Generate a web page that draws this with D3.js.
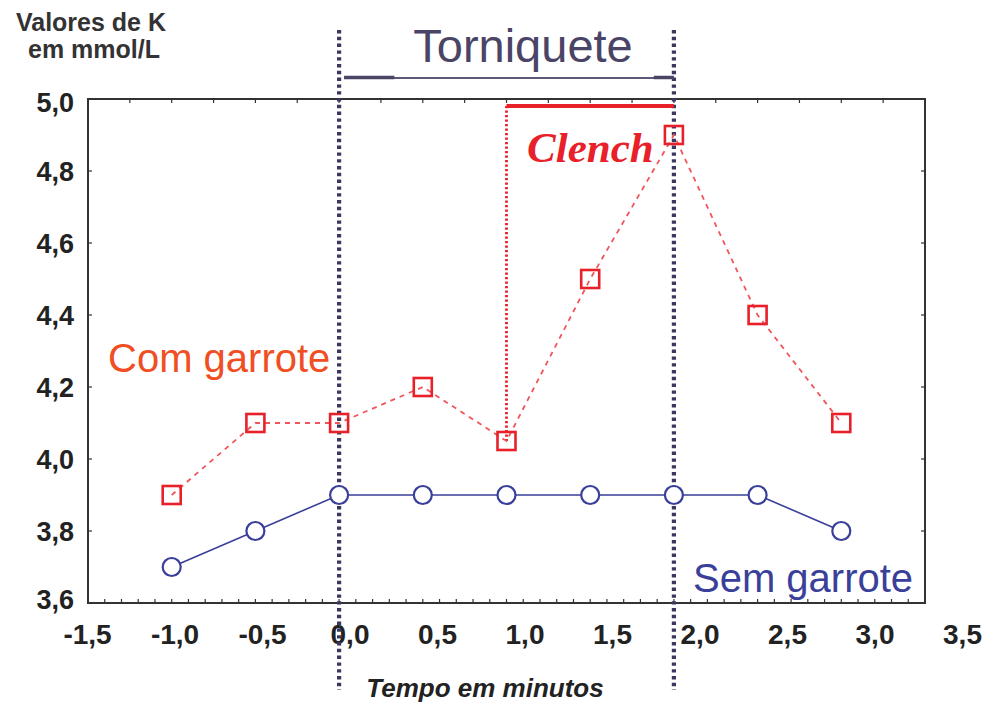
<!DOCTYPE html>
<html>
<head>
<meta charset="utf-8">
<script src="https://cdn.jsdelivr.net/npm/d3@7"></script>
<style>
  body { margin: 0; background: #fff; }
  svg { display: block; font-family: "Liberation Sans", Arial, sans-serif; }
</style>
</head>
<body>
<div id="grafic"></div>
<script>
// dades llegides del gràfic
const minuts = [-1.0, -0.5, 0.0, 0.5, 1.0, 1.5, 2.0, 2.5, 3.0];
const comGarrote = [3.9, 4.1, 4.1, 4.2, 4.05, 4.5, 4.9, 4.4, 4.1];
const semGarrote = [3.7, 3.8, 3.9, 3.9, 3.9, 3.9, 3.9, 3.9, 3.8];
const ticsX = [-1.5, -1.0, -0.5, 0.0, 0.5, 1.0, 1.5, 2.0, 2.5, 3.0, 3.5];
const ticsY = [3.6, 3.8, 4.0, 4.2, 4.4, 4.6, 4.8, 5.0];
const torniquet = [0.0, 2.0];
const clench = [1.0, 2.0];

const W = 992, H = 707;
const marc = {esq: 88, dreta: 925, dalt: 99, baix: 603};

const svg = d3.select("#grafic").append("svg")
	.attr("width", W)
	.attr("height", H);

const x = d3.scaleLinear().domain([-1.5, 3.5]).range([marc.esq, marc.dreta]);
const y = d3.scaleLinear().domain([3.6, 5.0]).range([marc.baix, marc.dalt]);
// les etiquetes de l'eix X estan una mica més espaiades a l'original
const xEtiq = d3.scaleLinear().domain([-1.5, 3.5]).range([87, 962]);

const coma = d => d3.format(".1f")(d).replace(".", ",").replace("\u2212", "-");

// marc
svg.append("rect")
	.attr("x", marc.esq).attr("y", marc.dalt)
	.attr("width", marc.dreta - marc.esq).attr("height", marc.baix - marc.dalt)
	.attr("fill", "none").attr("stroke", "#333").attr("stroke-width", 2);

// tics petits
const ticsBaix = d3.range(-1.4, 3.45, 0.1);
svg.append("g").selectAll("line").data(ticsBaix).enter().append("line")
	.attr("x1", d => x(d)).attr("x2", d => x(d))
	.attr("y1", marc.baix).attr("y2", marc.baix - 4)
	.attr("stroke", "#333").attr("stroke-width", 1.2);
const ticsDalt = d3.range(-1.25, 3.45, 0.25);
svg.append("g").selectAll("line").data(ticsDalt).enter().append("line")
	.attr("x1", d => x(d)).attr("x2", d => x(d))
	.attr("y1", marc.dalt).attr("y2", marc.dalt + 4)
	.attr("stroke", "#333").attr("stroke-width", 1.2);
const ticsCostat = ticsY.slice(1, -1);
svg.append("g").selectAll("line").data(ticsCostat).enter().append("line")
	.attr("x1", marc.esq).attr("x2", marc.esq + 4)
	.attr("y1", d => y(d)).attr("y2", d => y(d))
	.attr("stroke", "#333").attr("stroke-width", 1.2);
svg.append("g").selectAll("line").data(ticsCostat).enter().append("line")
	.attr("x1", marc.dreta).attr("x2", marc.dreta - 4)
	.attr("y1", d => y(d)).attr("y2", d => y(d))
	.attr("stroke", "#333").attr("stroke-width", 1.2);

// etiquetes dels eixos
const eixY = svg.append("g")
	.attr("transform", `translate(${marc.esq},0)`)
	.call(d3.axisLeft(y).tickValues(ticsY).tickFormat(coma).tickSize(0).tickPadding(14));
eixY.select(".domain").remove();
eixY.selectAll("text")
	.attr("font-family", "Liberation Sans, Arial, sans-serif")
	.attr("font-size", 27).attr("font-weight", "bold").attr("fill", "#222")
	.attr("dy", "0.36em");
eixY.selectAll("text").filter(d => d === 5.0).attr("dy", "0.45em");
eixY.selectAll("text").filter(d => d === 3.6).attr("dy", "0.2em");

const eixX = svg.append("g")
	.attr("transform", `translate(0,${marc.baix})`)
	.call(d3.axisBottom(xEtiq).tickValues(ticsX).tickFormat(coma).tickSize(0).tickPadding(21));
eixX.select(".domain").remove();
eixX.selectAll("text")
	.attr("font-family", "Liberation Sans, Arial, sans-serif")
	.attr("font-size", 28).attr("font-weight", "bold").attr("fill", "#222");

// línies verticals puntejades del torniquet
svg.append("g").selectAll("line").data(torniquet).enter().append("line")
	.attr("x1", d => x(d)).attr("x2", d => x(d))
	.attr("y1", 30).attr("y2", 690)
	.attr("stroke", "#3a3760").attr("stroke-width", 4.2)
	.attr("stroke-dasharray", "3.4,3.4");

// barra del torniquet
svg.append("line")
	.attr("x1", x(torniquet[0]) + 5).attr("x2", x(torniquet[1]))
	.attr("y1", 78).attr("y2", 78)
	.attr("stroke", "#5d5876").attr("stroke-width", 2);
svg.append("g").selectAll("line")
	.data([[torniquet[0], 0.33], [torniquet[1] - 0.15, torniquet[1]]]).enter().append("line")
	.attr("x1", d => x(d[0]) + 5).attr("x2", d => x(d[1]))
	.attr("y1", 77.5).attr("y2", 77.5)
	.attr("stroke", "#4a4466").attr("stroke-width", 3.5);
svg.append("text")
	.attr("x", 523).attr("y", 62)
	.attr("text-anchor", "middle")
	.attr("font-size", 47).attr("fill", "#4a4466")
	.text("Torniquete");

// clench
svg.append("line")
	.attr("x1", x(clench[0])).attr("x2", x(clench[1]))
	.attr("y1", 106).attr("y2", 106)
	.attr("stroke", "#e8202a").attr("stroke-width", 4);
svg.append("line")
	.attr("x1", x(clench[0])).attr("x2", x(clench[0]))
	.attr("y1", 106).attr("y2", y(comGarrote[4]))
	.attr("stroke", "#e8202a").attr("stroke-width", 2.8)
	.attr("stroke-dasharray", "2.2,2.3");
svg.append("text")
	.attr("x", 527).attr("y", 162)
	.attr("font-family", "Liberation Serif, Times New Roman, serif")
	.attr("font-style", "italic").attr("font-weight", "bold")
	.attr("font-size", 43).attr("fill", "#e8202a")
	.text("Clench");

// sèries
const línia = d3.line().x(d => x(d[0])).y(d => y(d[1]));
const vermell = minuts.map((m, i) => [m, comGarrote[i]]);
const blau = minuts.map((m, i) => [m, semGarrote[i]]);

svg.append("path").attr("d", línia(vermell))
	.attr("fill", "none").attr("stroke", "#f0555a").attr("stroke-width", 1.8)
	.attr("stroke-dasharray", "5,5");
svg.append("path").attr("d", línia(blau))
	.attr("fill", "none").attr("stroke", "#3a3f9a").attr("stroke-width", 1.6);

const costat = 18;
svg.append("g").selectAll("rect").data(vermell).enter().append("rect")
	.attr("x", d => x(d[0]) - costat / 2).attr("y", d => y(d[1]) - costat / 2)
	.attr("width", costat).attr("height", costat)
	.attr("fill", "none").attr("stroke", "#e8202a").attr("stroke-width", 2.6);
svg.append("g").selectAll("circle").data(blau).enter().append("circle")
	.attr("cx", d => x(d[0])).attr("cy", d => y(d[1])).attr("r", 9)
	.attr("fill", "#fff").attr("stroke", "#3a3f9a").attr("stroke-width", 2.2);

// textos
svg.append("text").attr("x", 108).attr("y", 372)
	.attr("font-size", 40).attr("fill", "#f04e23").text("Com garrote");
svg.append("text").attr("x", 693).attr("y", 592)
	.attr("font-size", 40).attr("fill", "#3a3f9a").text("Sem garrote");

svg.append("text").attr("x", 91).attr("y", 31)
	.attr("text-anchor", "middle")
	.attr("font-size", 25).attr("font-weight", "bold").attr("fill", "#333")
	.text("Valores de K");
svg.append("text").attr("x", 94).attr("y", 58)
	.attr("text-anchor", "middle")
	.attr("font-size", 25).attr("font-weight", "bold").attr("fill", "#333")
	.text("em mmol/L");

svg.append("text").attr("x", 485).attr("y", 697)
	.attr("text-anchor", "middle")
	.attr("font-size", 26).attr("font-weight", "bold").attr("font-style", "italic")
	.attr("fill", "#222")
	.text("Tempo em minutos");
</script>
</body>
</html>
